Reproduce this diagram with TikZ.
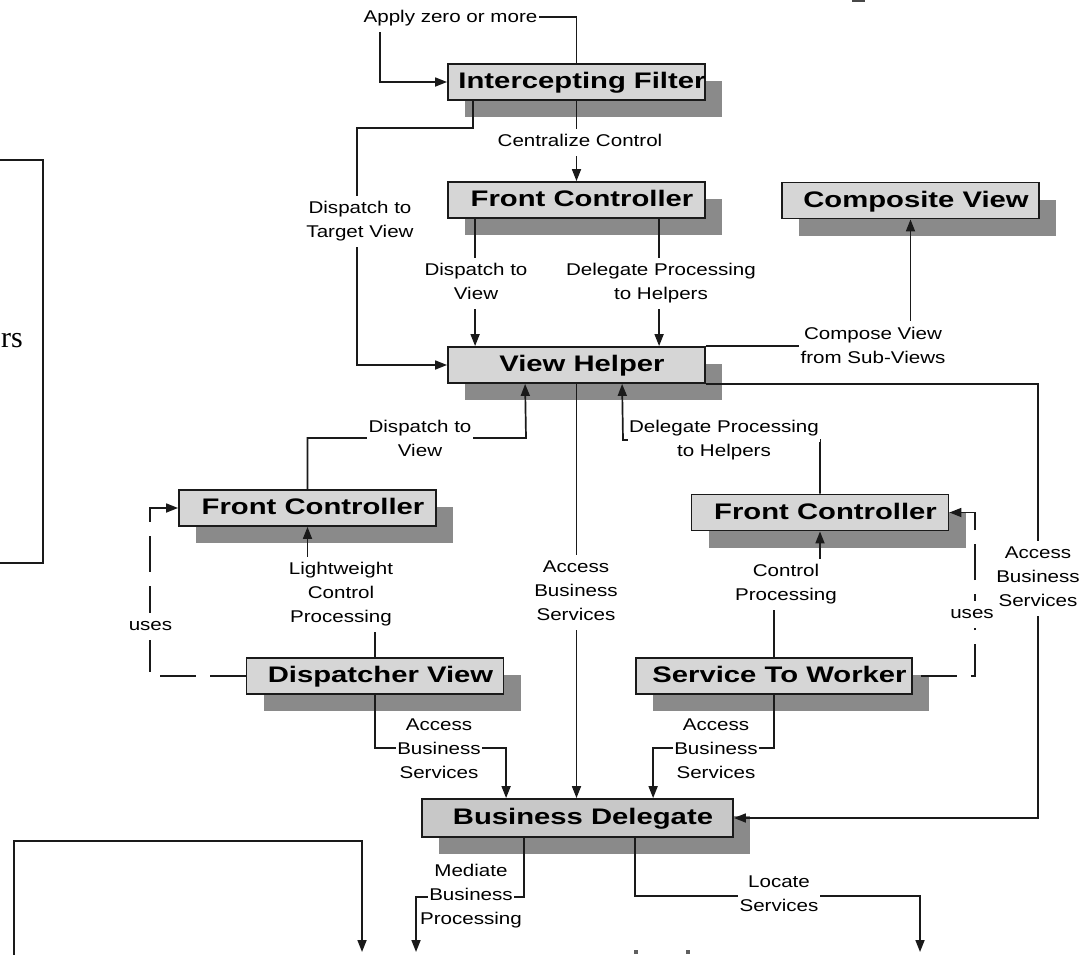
\documentclass[tikz,border=0pt]{standalone}
\usepackage{fontspec}
\usetikzlibrary{arrows.meta,calc,shadows}

\newfontfamily\boxfont[FakeStretch=1.3]{Liberation Sans}
\newfontfamily\lblfont[FakeStretch=1.21]{Liberation Sans}
\newfontfamily\headfont{Liberation Serif}

\definecolor{boxfill}{HTML}{D6D6D6}
\definecolor{bdfill}{HTML}{C8C8C8}
\definecolor{shade}{HTML}{8A8A8A}
\definecolor{ink}{HTML}{1A1A1A}

% one line of a connector label, on its own white backing
\newcommand\wl[1]{\raisebox{0pt}[\ht\strutbox][\dp\strutbox]{\fboxsep=1.5pt\colorbox{white}{\strut#1}}}
% pattern name, set a little right of the box centre
\newcommand\bx[1]{\makebox[0pt]{\kern11pt #1}}

\tikzset{
  pbox/.style={draw=ink, line width=1.8pt, fill=boxfill,
    minimum width=257pt, minimum height=36pt, inner sep=0pt,
    text height=16.5pt, text depth=3.5pt,
    font=\boxfont\bfseries\fontsize{22.5}{24}\selectfont,
    drop shadow={fill=shade, opacity=1, shadow xshift=17pt, shadow yshift=-17pt}},
  conn/.style={draw=ink, line width=1.7pt},
  arr/.style={conn, -{Triangle[length=12pt,width=9pt]}},
  usesln/.style={arr, dash pattern=on 36pt off 14pt},
  lbl/.style={inner sep=0pt, align=center,
    font=\lblfont\fontsize{17}{24}\selectfont},
}

\begin{document}
\begin{tikzpicture}[x=1pt,y=-1pt]
\useasboundingbox (0,0) rectangle (1079,954);
\clip (0,0) rectangle (1079,954);

% ---- pattern boxes
\node[pbox] (IF)  at (576.5,82)  {\bx{Intercepting Filter}};
\node[pbox] (FC1) at (576.5,200) {\bx{Front Controller}};
\node[pbox] (CV)  at (910.5,200.5) {\bx{Composite View}};
\node[pbox] (VH)  at (576.5,365) {\bx{View Helper}};
\node[pbox] (FC2) at (307.5,508) {\bx{Front Controller}};
\node[pbox] (FC3) at (820,512.5) {\bx{Front Controller}};
\node[pbox] (DV)  at (375,676)   {\bx{Dispatcher View}};
\node[pbox, minimum width=276pt] (STW) at (774,676) {\bx{Service To Worker}};
\node[pbox, minimum width=311pt, minimum height=38pt, fill=bdfill] (BD) at (577.5,818) {\bx{Business Delegate}};

% ---- frame on the left edge and its title fragment
\coordinate (frTL) at (-10,160);
\coordinate (frBL) at (-10,563);
\draw[conn, line width=1.8pt] (frTL) -- (43,160) -- (43,563) -- (frBL);
\node[anchor=base west, inner sep=0pt, font=\headfont\fontsize{30}{32}\selectfont] (frTitle) at (1,347) {rs};

% ---- glyph fragments cut by the top and bottom edges
\fill[ink!80] (852,0) rectangle (865,2);
\fill[ink!70] (634,950) rectangle (637.5,954);
\fill[ink!70] (686,950) rectangle (689.5,954);

% ---- free ends running off the bottom
\coordinate (medEnd) at (416,952);
\coordinate (locEnd) at (920,952);
\coordinate (blStart) at (14,960);
\coordinate (blEnd) at (362,952);

% ---- connectors
\draw[arr] (IF.north) |- (380,17) |- (IF.west);
\draw[arr] (IF.south) -- (FC1.north);
\draw[arr] ($(IF.south west)+(26,0)$) |- (357,128) |- (VH.west);
\draw[arr] ($(FC1.south west)+(28,0)$) -- ($(VH.north west)+(28,0)$);
\draw[arr] ($(FC1.south west)+(212,0)$) -- ($(VH.north west)+(212,0)$);
\draw[arr] (VH.north east) -| (CV.south);
\draw[arr] (VH.south east) -| (1038,600) |- (BD.east);
\draw[arr] (FC2.north) |- (526,438) -- ($(VH.south west)+(78,0)$);
\draw[arr] (VH.south) -- (VH.south |- BD.north);
\draw[arr] (FC3.north) |- (623,440) -- ($(VH.south west)+(175,0)$);
\draw[arr] (DV.north) |- (340,610) -| (FC2.south);
\draw[usesln] (DV.west) -| (150,560) |- (FC2.west);
\draw[arr] (STW.north) |- (800,596) -| (FC3.south);
\draw[usesln, dash phase=42pt] (STW.east) -| (975,600) |- (FC3.east);
\draw[arr] (DV.south) |- (450,748) -| ($(BD.north west)+(85,0)$);
\draw[arr] (STW.south) |- (700,748) -| ($(BD.north west)+(232,0)$);
\draw[arr] ($(BD.south west)+(103,0)$) |- (470,897) -| (medEnd);
\draw[arr] ($(BD.south west)+(214,0)$) |- (780,896) -| (locEnd);
\draw[arr] (blStart) |- (200,841) -| (blEnd);

% ---- connector labels
\node[lbl] (lApply)   at (450.5,18)  {\wl{Apply zero or more}};
\node[lbl] (lCentral) at (580,142)   {\wl{Centralize Control}};
\node[lbl] (lTarget)  at (360,221)   {\wl{Dispatch to}\\\wl{Target View}};
\node[lbl] (lDisp1)   at (476,283)   {\wl{Dispatch to}\\\wl{View}};
\node[lbl] (lDeleg1)  at (661,283)   {\wl{Delegate Processing}\\\wl{to Helpers}};
\node[lbl] (lCompose) at (873,346.5) {\wl{Compose View}\\\wl{from Sub-Views}};
\node[lbl] (lDisp2)   at (420,440)   {\wl{Dispatch to}\\\wl{View}};
\node[lbl] (lDeleg2)  at (724,440)   {\wl{Delegate Processing}\\\wl{to Helpers}};
\node[lbl] (lLight)   at (341,594)   {\wl{Lightweight}\\\wl{Control}\\\wl{Processing}};
\node[lbl] (lUsesL)   at (150.5,626) {\wl{uses}};
\node[lbl] (lAccC)    at (576,592)   {\wl{Access}\\\wl{Business}\\\wl{Services}};
\node[lbl] (lCtrl)    at (786,584)   {\wl{Control}\\\wl{Processing}};
\node[lbl] (lUsesR)   at (972,614)   {\wl{uses}};
\node[lbl] (lAccR)    at (1038,578)  {\wl{Access}\\\wl{Business}\\\wl{Services}};
\node[lbl] (lAccDV)   at (439,750)   {\wl{Access}\\\wl{Business}\\\wl{Services}};
\node[lbl] (lAccSTW)  at (716,750)   {\wl{Access}\\\wl{Business}\\\wl{Services}};
\node[lbl] (lMediate) at (471,896)   {\wl{Mediate}\\\wl{Business}\\\wl{Processing}};
\node[lbl] (lLocate)  at (779,895)   {\wl{Locate}\\\wl{Services}};
\end{tikzpicture}
\end{document}
